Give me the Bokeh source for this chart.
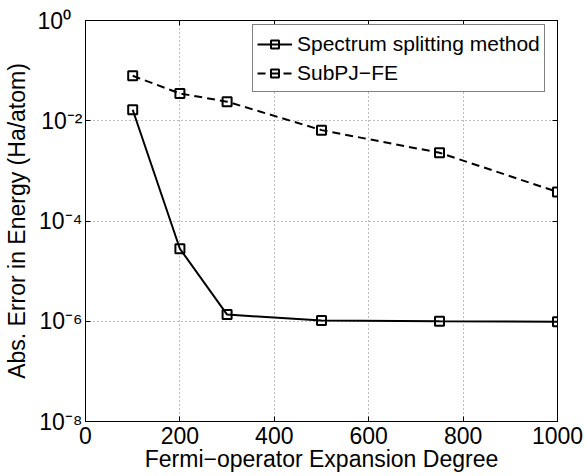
from bokeh.plotting import figure
from bokeh.models import (LinearAxis, LogAxis, FixedTicker, Legend,
                          LegendItem, Range1d, CustomJSTickFormatter)
from bokeh.embed import file_html
from bokeh.resources import INLINE

# ---- data -------------------------------------------------------------
degrees = [100, 200, 300, 500, 750, 1000]
spectrum_err = [1.66e-2, 2.8e-5, 1.36e-6, 1.03e-6, 1.0e-6, 0.98e-6]
subpj_err = [7.9e-2, 3.5e-2, 2.4e-2, 6.5e-3, 2.3e-3, 3.8e-4]
x_ticks = [0, 200, 400, 600, 800, 1000]
y_tick_exps = [0, -2, -4, -6, -8]
y_ticks = [10.0 ** e for e in y_tick_exps]
y_tick_labels = ["10\u2070\u2002", "10\u207b\u00b2", "10\u207b\u2074",
                 "10\u207b\u2076", "10\u207b\u2078"]
series_names = ["Spectrum splitting method", "SubPJ\u2212FE"]
x_title = "Fermi\u2212operator Expansion Degree"
y_title = "Abs. Error in Energy (Ha/atom)"

FONT = "Liberation Sans"

p = figure(width=586, height=476, x_range=Range1d(0, 1000),
           y_range=Range1d(1e-8, 1), y_axis_type="log",
           output_backend="svg", toolbar_location=None,
           min_border_left=85, min_border_right=29,
           min_border_top=20, min_border_bottom=55)
p.outline_line_color = "black"
p.outline_line_width = 1
p.background_fill_color = "white"
p.border_fill_color = "white"

# bottom axis
xa = p.below[0]
xa.ticker = FixedTicker(ticks=x_ticks)
xa.major_tick_in = 5
xa.major_tick_out = 0
xa.minor_tick_line_color = None
xa.axis_line_color = "black"
xa.major_label_text_font = FONT
xa.major_label_text_font_size = "23px"
xa.major_label_text_color = "black"
xa.major_label_standoff = 5
xa.axis_label = x_title
xa.axis_label_text_font = FONT
xa.axis_label_text_font_size = "23px"
xa.axis_label_text_font_style = "normal"
xa.axis_label_text_color = "black"
xa.axis_label_standoff = -1

# left axis with power-of-ten labels
ya = p.left[0]
ya.ticker = FixedTicker(ticks=y_ticks)
ya.major_label_overrides = dict(zip(y_ticks, y_tick_labels))
ya.major_tick_in = 5
ya.major_tick_out = 0
ya.minor_tick_line_color = None
ya.axis_line_color = "black"
ya.major_label_text_font = FONT
ya.major_label_text_font_size = "23px"
ya.major_label_text_color = "black"
ya.major_label_standoff = 3
ya.axis_label = y_title
ya.axis_label_text_font = FONT
ya.axis_label_text_font_size = "23px"
ya.axis_label_text_font_style = "normal"
ya.axis_label_text_color = "black"
ya.axis_label_standoff = 4

# top / right axes (box ticks only)
top = LinearAxis(ticker=FixedTicker(ticks=x_ticks), major_tick_in=5,
                 major_tick_out=0, minor_tick_line_color=None,
                 formatter=CustomJSTickFormatter(code="return ''"),
                 major_label_standoff=0, axis_line_color="black")
right = LogAxis(ticker=FixedTicker(ticks=y_ticks), major_tick_in=5,
                major_tick_out=0, minor_tick_line_color=None,
                formatter=CustomJSTickFormatter(code="return ''"),
                major_label_standoff=0, axis_line_color="black")
p.add_layout(top, "above")
p.add_layout(right, "right")

# grids
p.xgrid.ticker = FixedTicker(ticks=x_ticks)
p.ygrid.ticker = FixedTicker(ticks=y_ticks)
for g in (p.xgrid[0], p.ygrid[0]):
    g.grid_line_color = "#7a7a7a"
    g.grid_line_dash = "1 3"
    g.grid_line_width = 1

# series
l1 = p.line(degrees, spectrum_err, line_color="black", line_width=2)
s1 = p.scatter(degrees, spectrum_err, marker="square", size=9,
               line_color="black", line_width=2, fill_color=None)
l2 = p.line(degrees, subpj_err, line_color="black", line_width=2,
            line_dash="8 5")
s2 = p.scatter(degrees, subpj_err, marker="square", size=9,
               line_color="black", line_width=2, fill_color=None)

legend = Legend(items=[LegendItem(label=series_names[0], renderers=[l1, s1]),
                       LegendItem(label=series_names[1], renderers=[l2, s2])],
                location=(167, 329), label_text_font=FONT,
                label_text_font_size="21px", label_text_color="black",
                glyph_width=35, glyph_height=20, label_height=29,
                label_standoff=5, padding=4, spacing=0, margin=0,
                border_line_color="black", border_line_width=1,
                background_fill_color="white", background_fill_alpha=1)
p.add_layout(legend)

open("out.html", "w").write(file_html(p, INLINE))
